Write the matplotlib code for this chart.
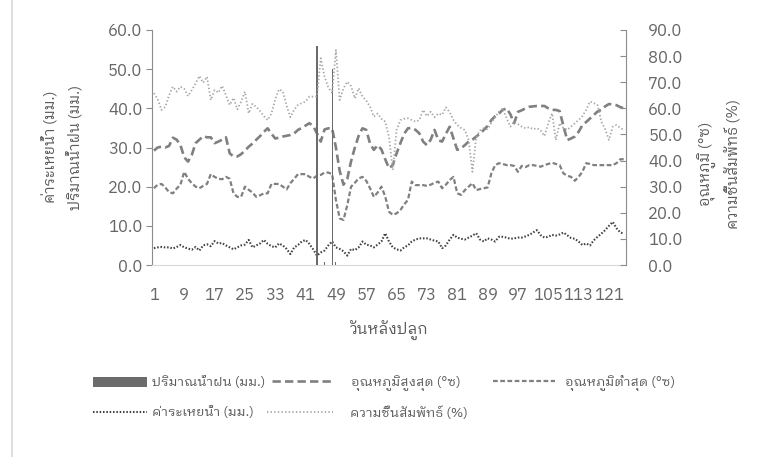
import numpy as np
import matplotlib
matplotlib.use("Agg")
import matplotlib.pyplot as plt
from matplotlib import font_manager
from matplotlib.ft2font import FT2Font
from matplotlib.patches import Patch
from matplotlib.lines import Line2D

# --- data ---
days = list(range(1, 126))
tick_days = list(range(1, 122, 8))

rain = [0.0] * 125
rain[43] = 56.0   # day 44
rain[45] = 0.8    # day 46
rain[47] = 50.0   # day 48
rain[48] = 0.8    # day 49

t_max = [
    29.2, 30.0, 30.2, 30.0, 30.4, 32.5, 32.0, 30.6, 27.5, 26.4,
    28.1, 31.1, 32.0, 32.9, 32.6, 32.6, 31.1, 31.5, 32.0, 32.6,
    28.5, 27.7, 27.7, 28.3, 29.2, 30.2, 31.0, 32.0, 32.9, 34.0,
    34.9, 33.5, 32.3, 32.5, 32.8, 33.0, 33.2, 33.6, 34.5, 35.0,
    35.6, 36.2, 35.5, 33.6, 31.5, 34.6, 34.9, 34.9, 30.0, 24.0,
    20.5, 22.0, 26.5, 30.0, 33.0, 34.9, 34.5, 31.0, 29.4, 30.6,
    29.5, 27.0, 24.7, 25.5, 28.5, 31.1, 33.5, 34.9, 35.0, 34.5,
    33.6, 31.5, 30.6, 32.0, 34.5, 31.9, 31.5, 33.5, 35.3, 32.3,
    29.4, 29.8, 30.6, 31.5, 32.0, 32.8, 33.5, 34.5, 35.5, 37.0,
    38.0, 38.7, 39.6, 40.0, 38.5, 36.2, 39.1, 39.5, 40.0, 40.4,
    40.5, 40.6, 40.6, 40.6, 40.0, 39.6, 39.6, 39.3, 35.5, 31.9,
    32.3, 32.8, 34.0, 35.7, 36.5, 37.4, 38.3, 39.2, 39.6, 40.5,
    41.1, 41.0, 40.8, 40.3, 40.0,
]

t_min = [
    19.6, 20.5, 20.7, 19.8, 18.6, 18.3, 19.5, 20.5, 23.8, 22.0,
    20.9, 20.0, 19.6, 20.2, 20.7, 23.2, 22.5, 22.0, 21.9, 22.5,
    22.0, 18.3, 17.4, 17.4, 20.0, 19.2, 18.5, 17.4, 17.8, 18.3,
    18.3, 20.7, 20.7, 20.7, 20.0, 19.3, 20.9, 22.0, 23.2, 23.2,
    23.2, 22.5, 22.1, 22.8, 23.0, 23.6, 23.6, 23.2, 16.6, 11.9,
    11.5, 15.3, 20.0, 21.0, 22.1, 22.5, 21.5, 19.6, 17.4, 18.5,
    20.0, 17.5, 13.6, 12.8, 13.2, 14.0, 15.5, 16.6, 21.3, 20.4,
    20.4, 20.4, 20.2, 20.5, 21.0, 21.3, 19.6, 20.5, 21.7, 22.5,
    18.3, 17.9, 19.1, 20.0, 20.9, 19.1, 19.4, 19.6, 19.8, 23.4,
    25.5, 26.0, 25.8, 25.5, 25.5, 25.3, 23.8, 25.3, 25.0, 25.5,
    25.5, 25.3, 25.1, 25.5, 25.8, 26.1, 25.8, 25.5, 23.4, 22.8,
    22.5, 21.5, 22.5, 23.8, 26.0, 25.8, 25.5, 25.5, 25.5, 25.5,
    25.5, 25.5, 26.0, 27.0, 27.0,
]

evap = [
    4.3, 4.5, 4.6, 4.5, 4.5, 4.2, 4.6, 5.1, 4.5, 4.2,
    3.9, 4.6, 3.7, 5.0, 5.3, 4.8, 6.1, 5.5, 5.6, 5.0,
    4.5, 4.0, 4.5, 5.0, 5.2, 6.4, 4.5, 5.0, 5.5, 6.4,
    5.4, 4.8, 4.5, 5.5, 5.0, 4.1, 2.8, 4.5, 5.1, 6.0,
    6.4, 5.4, 4.0, 2.4, 3.2, 3.7, 5.0, 6.0, 4.5, 4.1,
    3.5, 2.4, 4.1, 3.8, 4.5, 6.0, 5.2, 5.0, 4.5, 5.2,
    6.0, 8.1, 6.0, 4.5, 4.0, 3.7, 4.5, 5.0, 6.0, 6.5,
    6.8, 6.8, 6.8, 6.5, 6.2, 6.0, 4.3, 5.0, 6.5, 7.7,
    7.0, 6.7, 6.5, 7.0, 7.5, 8.1, 6.5, 6.0, 6.8, 6.5,
    6.0, 7.2, 7.2, 7.0, 6.7, 6.8, 7.0, 7.0, 7.3, 7.7,
    8.3, 8.9, 7.6, 7.0, 7.2, 7.7, 7.5, 7.8, 8.3, 7.6,
    6.9, 6.7, 6.0, 5.1, 5.5, 5.0, 6.3, 7.2, 8.0, 8.9,
    10.0, 11.0, 9.4, 8.3, 8.0,
]

humidity = [
    65.8, 63.5, 59.4, 60.5, 65.0, 68.3, 66.4, 68.3, 67.5, 64.7,
    67.0, 69.5, 72.4, 69.8, 72.1, 63.2, 67.0, 66.0, 68.6, 65.0,
    61.3, 64.0, 59.6, 62.5, 66.4, 58.1, 61.7, 60.5, 59.0, 57.0,
    55.5, 58.0, 63.5, 67.3, 66.5, 61.0, 56.6, 59.5, 61.3, 62.0,
    62.6, 64.5, 64.5, 64.5, 79.2, 72.1, 68.0, 65.8, 82.3, 63.2,
    67.7, 70.2, 68.5, 63.8, 67.7, 64.5, 63.0, 60.6, 56.8, 58.0,
    56.0, 54.9, 49.1, 36.4, 51.7, 55.5, 56.0, 56.2, 55.5, 54.9,
    55.5, 59.4, 57.0, 58.7, 56.6, 58.0, 57.5, 60.4, 58.5, 55.5,
    53.6, 52.5, 51.7, 47.9, 35.7, 49.1, 51.5, 52.4, 52.0, 54.5,
    56.6, 58.7, 60.0, 56.2, 53.0, 54.9, 54.0, 53.0, 52.4, 52.8,
    52.0, 52.4, 51.5, 49.4, 54.3, 58.1, 47.9, 54.3, 52.5, 51.7,
    53.0, 54.3, 55.5, 57.0, 59.4, 62.6, 62.0, 61.3, 54.9, 52.0,
    47.9, 53.0, 53.6, 52.5, 51.7,
]

labels = [
    "ปริมาณน้ำฝน (มม.)",
    "อุณหภูมิสูงสุด (°ซ)",
    "อุณหภูมิต่ำสุด (°ซ)",
    "ค่าระเหยน้ำ (มม.)",
    "ความชื้นสัมพัทธ์ (%)",
]


def find_thai_font():
    # first installed font with Thai glyphs, looped styles preferred
    found = []
    for f in font_manager.fontManager.ttflist:
        try:
            cmap = FT2Font(f.fname).get_charmap()
        except Exception:
            continue
        if 0x0E01 in cmap and 0x0E49 in cmap:
            found.append(f.name)
    for key in ("Looped", "Tahoma", "Leelawadee", "Loma", "Garuda", "Sans"):
        for name in found:
            if key in name:
                return name
    return found[0] if found else None


thai = find_thai_font()
families = [thai, "DejaVu Sans"] if thai else ["DejaVu Sans"]
plt.rcParams["font.family"] = families
plt.rcParams["lines.scale_dashes"] = False

TXT = "#595959"
TICK_TXT = "#666666"
AXC = "#8c8c8c"
RAIN_C = "#6b6b6b"
LEG_FS = 9.5

fig = plt.figure(figsize=(7.58, 4.57), dpi=100)
ax = fig.add_axes([152 / 758, 1 - 265 / 457, 474 / 758, 235 / 457])
ax2 = ax.twinx()

bars = ax.bar(days, rain, width=0.3, color=RAIN_C, zorder=3)
l_max, = ax.plot(days, t_max, color="#808080", lw=1.9, dashes=(6, 3))
l_min, = ax.plot(days, t_min, color="#808080", lw=1.6, dashes=(3.4, 1.8))
l_ev, = ax.plot(days, evap, color="#404040", lw=1.5, dashes=(1.1, 1.3))
l_hum, = ax2.plot(days, humidity, color="#a6a6a6", lw=1.3, dashes=(1.0, 1.6))

ax.set_xlim(0.5, 125.5)
ax.set_ylim(0, 60)
ax2.set_ylim(0, 90)
ax.set_yticks(np.arange(0, 61, 10))
ax2.set_yticks(np.arange(0, 91, 10))
ax.set_yticklabels([f"{v:.1f}" for v in np.arange(0, 61, 10)])
ax2.set_yticklabels([f"{v:.1f}" for v in np.arange(0, 91, 10)])
ax.set_xticks(tick_days)
ax.set_xticklabels([str(d) for d in tick_days])

for a in (ax, ax2):
    a.spines["top"].set_visible(False)
    a.patch.set_visible(False)
ax.spines["right"].set_visible(False)
ax2.spines["left"].set_visible(False)
ax2.spines["bottom"].set_visible(False)
ax.spines["left"].set_color(AXC)
ax2.spines["right"].set_color(AXC)
ax.spines["bottom"].set_color("#d9d9d9")

ax.tick_params(axis="x", length=0, pad=16, labelsize=12, labelcolor=TICK_TXT)
ax.tick_params(axis="y", direction="out", length=4, color=AXC, pad=3,
               labelsize=12, labelcolor=TICK_TXT)
ax2.tick_params(axis="y", direction="in", length=4, color=AXC, pad=16,
                labelsize=12, labelcolor=TICK_TXT)

fig.text(389 / 758, 1 - 331 / 457, "วันหลังปลูก", ha="center", va="center",
         fontsize=11.2, color=TXT)
fig.text(62 / 758, 1 - 147 / 457, "ค่าระเหยน้ำ (มม.)\nปริมาณน้ำฝน (มม.)",
         rotation=90, ha="center", va="center", fontsize=10.5, color=TXT,
         linespacing=1.6, multialignment="center")
fig.text(720 / 758, 1 - 164 / 457, "อุณหภูมิ (°ซ)\nความชื้นสัมพัทธ์ (%)",
         rotation=90, ha="center", va="center", fontsize=10.5, color=TXT,
         linespacing=1.6, multialignment="center")

# chart area border on the left
fig.add_artist(Line2D([12 / 758, 12 / 758], [0, 1], color="#d9d9d9", lw=1.2))

# legend entries placed one by one, like the spreadsheet layout
rain_h = Patch(facecolor=RAIN_C, edgecolor="none")
em = LEG_FS * 100 / 72
entries = [
    (rain_h, labels[0], 93, 383, 54, 5),
    (l_max, labels[1], 272, 383, 62, 17),
    (l_min, labels[2], 493, 383, 62, 10),
    (l_ev, labels[3], 93, 413, 54, 5),
    (l_hum, labels[4], 267, 413, 66, 17),
]
for h, lab, x0, y0, hlen, gap in entries:
    leg = fig.legend([h], [lab], loc="center left",
                     bbox_to_anchor=(x0 / 758, 1 - y0 / 457), frameon=False,
                     fontsize=LEG_FS, handlelength=hlen / em,
                     handletextpad=gap / em, borderpad=0, borderaxespad=0)
    for t in leg.get_texts():
        t.set_color(TXT)

fig.savefig("out.png", dpi=100)
